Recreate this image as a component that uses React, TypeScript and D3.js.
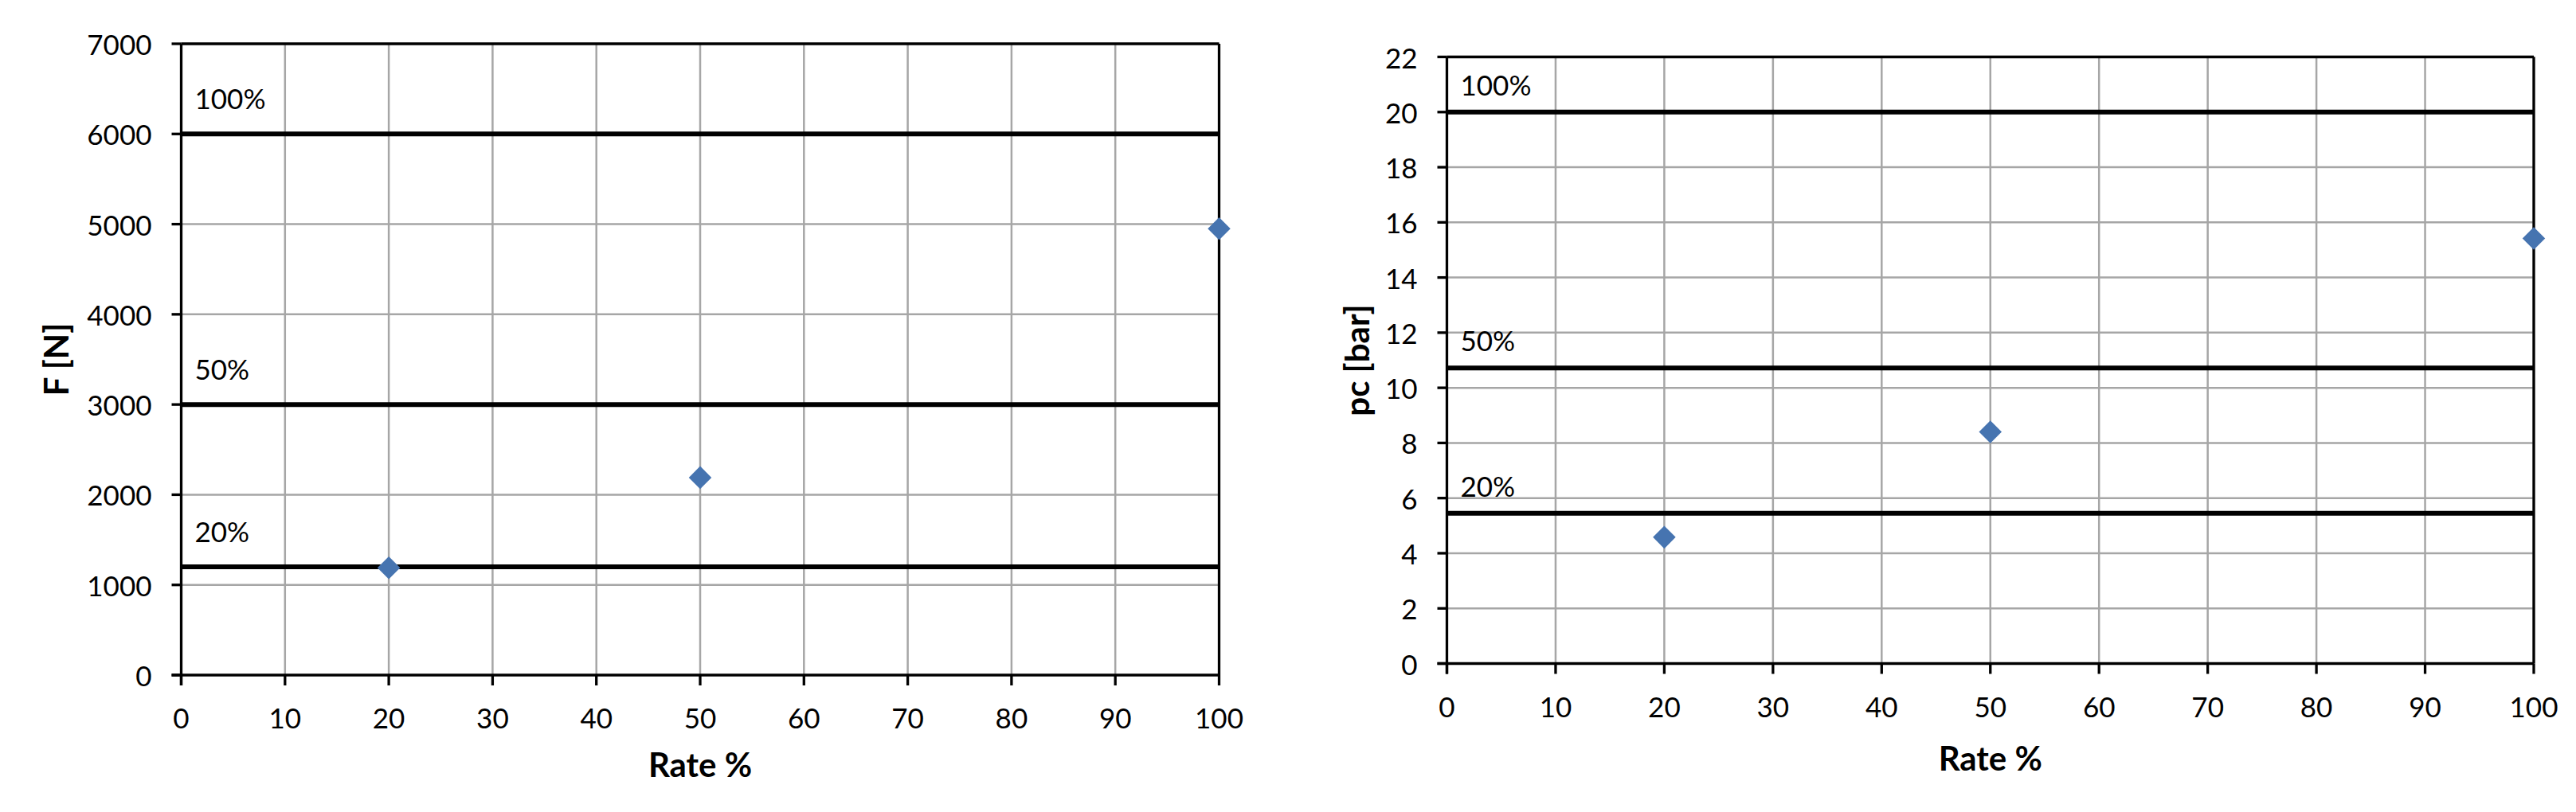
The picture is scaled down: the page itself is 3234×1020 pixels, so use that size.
import React from "react";
import * as d3 from "d3";

const rateValues = [20, 50, 100];
const forceValues = [1190, 2190, 4950];
const pressureValues = [4.58, 8.4, 15.42];

const xTickValues = [0, 10, 20, 30, 40, 50, 60, 70, 80, 90, 100];
const forceTickValues = [0, 1000, 2000, 3000, 4000, 5000, 6000, 7000];
const pressureTickValues = [0, 2, 4, 6, 8, 10, 12, 14, 16, 18, 20, 22];

const forceRefLabels = ["100%", "50%", "20%"];
const forceRefValues = [6000, 3000, 1200];
const pressureRefLabels = ["100%", "50%", "20%"];
const pressureRefValues = [20, 10.72, 5.45];

const FONT = "Lato, 'Open Sans', sans-serif";
const MARKER = "#4674B0";
const GRID = "#A6A6A6";

type PanelProps = {
  left: number;
  right: number;
  top: number;
  bottom: number;
  yMax: number;
  yTicks: number[];
  ys: number[];
  refValues: number[];
  refLabels: string[];
  refLabelOffset: number;
  yTitle: string;
  yTitleX: number;
  xTitleY: number;
};

function Panel(p: PanelProps) {
  const x = d3.scaleLinear().domain([0, 100]).range([p.left, p.right]);
  const y = d3.scaleLinear().domain([0, p.yMax]).range([p.bottom, p.top]);
  const diamond = d3.symbol().type(d3.symbolDiamond2).size(520)();
  const midY = (p.top + p.bottom) / 2;
  return (
    <g>
      {xTickValues.slice(1).map((t) => (
        <line key={"gx" + t} x1={x(t)} x2={x(t)} y1={p.top} y2={p.bottom} stroke={GRID} strokeWidth={2.5} />
      ))}
      {p.yTicks.slice(1).map((t) => (
        <line key={"gy" + t} x1={p.left} x2={p.right} y1={y(t)} y2={y(t)} stroke={GRID} strokeWidth={2.5} />
      ))}
      {p.refValues.map((v, i) => (
        <g key={"ref" + i}>
          <line x1={p.left} x2={p.right} y1={y(v)} y2={y(v)} stroke="#000" strokeWidth={6} />
          <text x={p.left + 17} y={y(v) - p.refLabelOffset} fontFamily={FONT} fontSize={35} fill="#000">
            {p.refLabels[i]}
          </text>
        </g>
      ))}
      <line x1={p.left} x2={p.right} y1={p.top} y2={p.top} stroke="#000" strokeWidth={3.3} />
      <line x1={p.right} x2={p.right} y1={p.top} y2={p.bottom} stroke="#000" strokeWidth={3.3} />
      <line x1={p.left} x2={p.left} y1={p.top} y2={p.bottom + 13} stroke="#000" strokeWidth={3.3} />
      <line x1={p.left - 12} x2={p.right} y1={p.bottom} y2={p.bottom} stroke="#000" strokeWidth={3.3} />
      {p.yTicks.map((t) => (
        <g key={"yt" + t}>
          <line x1={p.left - 12} x2={p.left} y1={y(t)} y2={y(t)} stroke="#000" strokeWidth={3.3} />
          <text x={p.left - 37} y={y(t)} textAnchor="end" dominantBaseline="central" fontFamily={FONT} fontSize={35}>
            {t}
          </text>
        </g>
      ))}
      {xTickValues.map((t) => (
        <g key={"xt" + t}>
          <line x1={x(t)} x2={x(t)} y1={p.bottom} y2={p.bottom + 13} stroke="#000" strokeWidth={3.3} />
          <text x={x(t)} y={p.bottom + 53} textAnchor="middle" dominantBaseline="central" fontFamily={FONT} fontSize={35}>
            {t}
          </text>
        </g>
      ))}
      {rateValues.map((r, i) => (
        <path key={"m" + i} d={diamond as string} transform={`translate(${x(r)},${y(p.ys[i])})`} fill={MARKER} />
      ))}
      <text x={(p.left + p.right) / 2} y={p.xTitleY} textAnchor="middle" dominantBaseline="central" fontFamily={FONT} fontWeight="bold" fontSize={42}>
        Rate %
      </text>
      <text
        transform={`translate(${p.yTitleX},${midY}) rotate(-90)`}
        textAnchor="middle"
        dominantBaseline="central"
        fontFamily={FONT}
        fontWeight="bold"
        fontSize={42}
      >
        {p.yTitle}
      </text>
    </g>
  );
}

export default function App() {
  return (
    <svg
      width={3234}
      height={1020}
      style={{ position: "absolute", left: 0, top: 0, display: "block", background: "#fff" }}
    >
      <rect width={3234} height={1020} fill="#fff" />
      <Panel
        left={227.5}
        right={1530.5}
        top={55}
        bottom={848}
        yMax={7000}
        yTicks={forceTickValues}
        ys={forceValues}
        refValues={forceRefValues}
        refLabels={forceRefLabels}
        refLabelOffset={31}
        yTitle="F [N]"
        yTitleX={70}
        xTitleY={960}
      />
      <Panel
        left={1816.5}
        right={3181}
        top={71.5}
        bottom={833.5}
        yMax={22}
        yTicks={pressureTickValues}
        ys={pressureValues}
        refValues={pressureRefValues}
        refLabels={pressureRefLabels}
        refLabelOffset={21}
        yTitle="pc [bar]"
        yTitleX={1703}
        xTitleY={952}
      />
    </svg>
  );
}
